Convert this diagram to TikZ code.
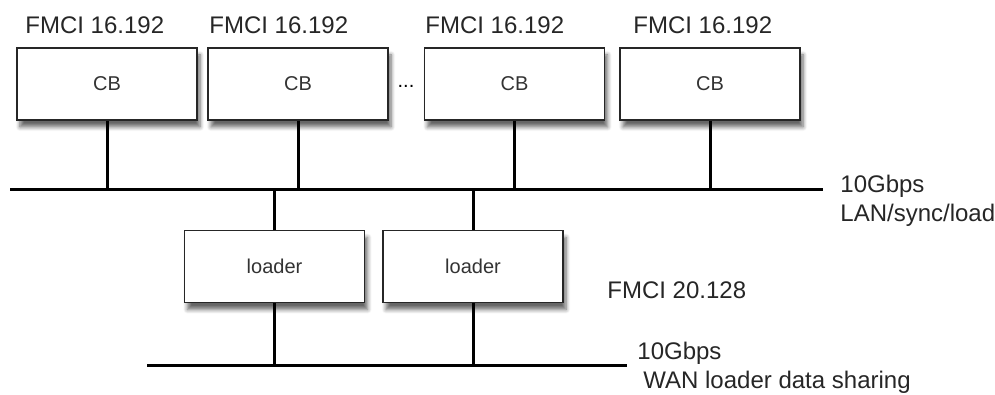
\documentclass[tikz,border=0pt]{standalone}
\usepackage{fontspec}
\setmainfont{Liberation Sans}
\usetikzlibrary{positioning, shadows.blur}

\begin{document}
\begin{tikzpicture}[x=0.5pt, y=-0.5pt,
        box/.style={rectangle, draw=black!85, line width=0.8pt, fill=white, minimum width=90pt, minimum height=36pt, inner sep=0pt, font=\fontsize{10}{12}\selectfont, text=black!80,
            blur shadow={shadow xshift=1.5pt, shadow yshift=-3.5pt, shadow blur steps=6, shadow opacity=60}},
        bus/.style={line width=1.5pt, black},
        stem/.style={line width=1.5pt, black},
        label/.style={font=\fontsize{12}{14.4}\selectfont, text=black!85, inner sep=0pt, anchor=west, align=left}
    ]
        \useasboundingbox (0,0) rectangle (995,395);

        % Top row: CB boards
        \node[box] (cb1) at (107,84) {CB};
        \node[box] (cb2) at (298,84) {CB};
        \node[box] (cb3) at (514.5,84) {CB};
        \node[box] (cb4) at (710,84) {CB};
        \node[font=\fontsize{10}{12}\selectfont, inner sep=0pt] (dots) at (406,86) {...};

        \node[label] (fmci1) at (25,25) {FMCI 16.192};
        \node[label] (fmci2) at (209,25) {FMCI 16.192};
        \node[label] (fmci3) at (425,25) {FMCI 16.192};
        \node[label] (fmci4) at (633,25) {FMCI 16.192};

        % LAN bus
        \coordinate (lanL) at (10,190);
        \coordinate (lanR) at (823,190);
        \draw[bus] (lanL) -- (lanR);
        \node[label] (lanlbl) at (840,201) {10Gbps\\LAN/sync/load};

        % Loaders
        \node[box] (loader1) at (274.5,266.5) {loader};
        \node[box] (loader2) at (473,266.5) {loader};
        \node[label] (fmci5) at (607,290) {FMCI 20.128};

        % WAN bus
        \coordinate (wanL) at (147,365);
        \coordinate (wanR) at (627,365);
        \draw[bus] (wanL) -- (wanR);
        \node[label] (wanlbl) at (637,368) {10Gbps\\\hspace{3pt}WAN loader data sharing};

        % Connections
        \draw[stem] (cb1.south) -- (cb1.south |- lanL);
        \draw[stem] (cb2.south) -- (cb2.south |- lanL);
        \draw[stem] (cb3.south) -- (cb3.south |- lanL);
        \draw[stem] (cb4.south) -- (cb4.south |- lanL);
        \draw[stem] (loader1.north |- lanL) -- (loader1.north);
        \draw[stem] (loader2.north |- lanL) -- (loader2.north);
        \draw[stem] (loader1.south) -- (loader1.south |- wanL);
        \draw[stem] (loader2.south) -- (loader2.south |- wanL);
    \end{tikzpicture}
\end{document}
